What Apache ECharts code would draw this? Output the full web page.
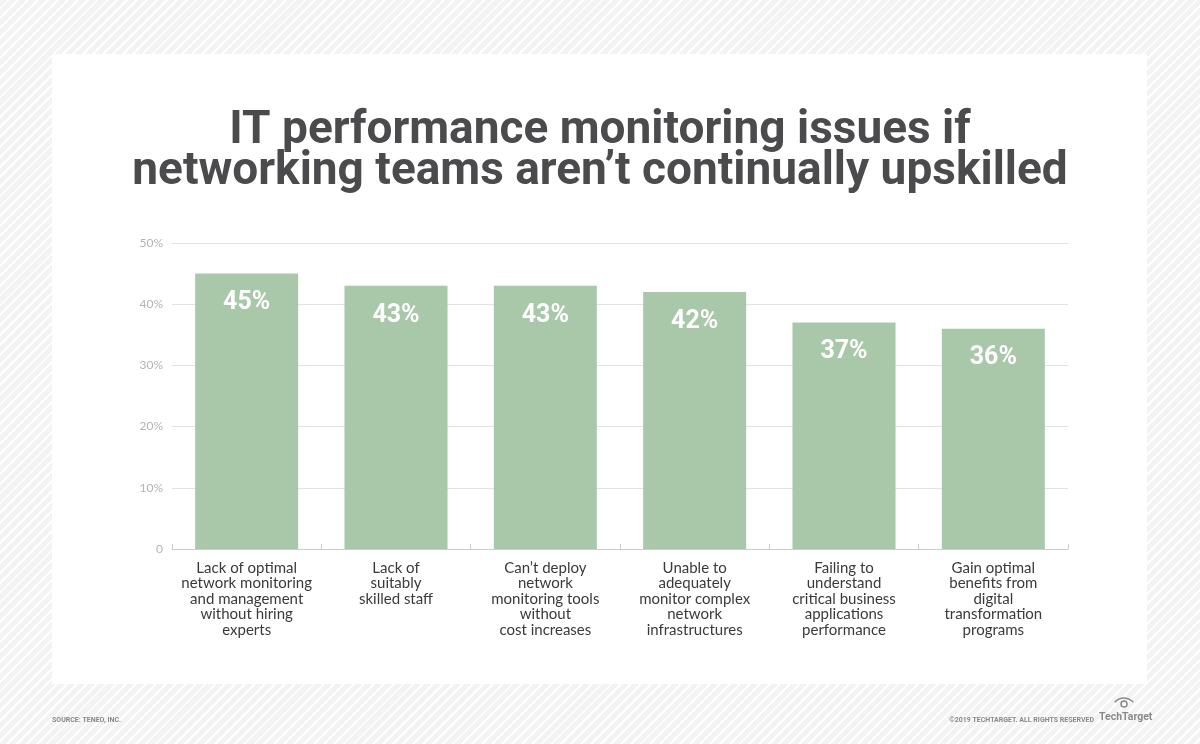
<!DOCTYPE html>
<html>
<head>
<meta charset="utf-8">
<script src="https://cdn.jsdelivr.net/npm/echarts@6/dist/echarts.min.js"></script>
<style>
html,body{margin:0;padding:0;width:1200px;height:744px;overflow:hidden;
background:repeating-linear-gradient(135deg,#f3f3f3 0px,#f3f3f3 5px,#ffffff 5px,#ffffff 7px);}
#chart{width:1200px;height:744px;}
</style>
</head>
<body>
<div id="chart"></div>
<script>
const titleText = "IT performance monitoring issues if\nnetworking teams aren\u2019t continually upskilled";
const categories = [
  "Lack of optimal\nnetwork monitoring\nand management\nwithout hiring\nexperts",
  "Lack of\nsuitably\nskilled staff",
  "Can\u2019t deploy\nnetwork\nmonitoring tools\nwithout\ncost increases",
  "Unable to\nadequately\nmonitor complex\nnetwork\ninfrastructures",
  "Failing to\nunderstand\ncritical business\napplications\nperformance",
  "Gain optimal\nbenefits from\ndigital\ntransformation\nprograms"
];
const values = [45, 43, 43, 42, 37, 36];
const yTicks = [0, 10, 20, 30, 40, 50];
const sourceText = "SOURCE: TENEO, INC.";
const copyrightText = "\u00A92019 TECHTARGET. ALL RIGHTS RESERVED";
const logoText = "TechTarget";

const chart = echarts.init(document.getElementById('chart'));
chart.setOption({
  backgroundColor: 'transparent',
  animation: false,
  title: {
    text: titleText,
    left: 'center',
    top: 106,
    textStyle: {
      fontFamily: 'Roboto',
      fontWeight: 'bold',
      fontSize: 46,
      lineHeight: 41,
      color: '#4b4b4d'
    }
  },
  graphic: [
    { type: 'rect', z: -10, silent: true,
      shape: { x: 52, y: 54, width: 1095, height: 630 },
      style: { fill: '#ffffff' } },
    { type: 'text', left: 52, top: 717,
      style: { text: sourceText, fontFamily: 'Roboto', fontWeight: 'bold', fontSize: 7, fill: '#8a8a8a' } },
    { type: 'text', right: 106, top: 717,
      style: { text: copyrightText, fontFamily: 'Roboto', fontWeight: 'bold', fontSize: 7, fill: '#8a8a8a', align: 'right' } },
    { type: 'text', left: 1099, top: 712,
      style: { text: logoText, fontFamily: 'Roboto', fontWeight: 'bold', fontSize: 10.5, fill: '#8a8a8a' } },
    { type: 'circle', shape: { cx: 1124, cy: 704, r: 3 }, style: { fill: 'none', stroke: '#8a8a8a', lineWidth: 1.5 } },
    { type: 'arc', shape: { cx: 1124, cy: 710, r: 12, startAngle: -Math.PI * 0.78, endAngle: -Math.PI * 0.22 }, style: { stroke: '#8a8a8a', lineWidth: 1.5, fill: 'none' } }
  ],
  grid: { left: 172, right: 132, top: 243, bottom: 195 },
  xAxis: {
    type: 'category',
    data: categories,
    axisLine: { show: true, lineStyle: { color: '#cccccc', width: 1 } },
    axisTick: { show: true, inside: true, length: 5, lineStyle: { color: '#cccccc' } },
    axisLabel: {
      interval: 0,
      margin: 11,
      color: '#3a3a3a',
      fontFamily: 'Lato',
      fontSize: 15,
      lineHeight: 15.5
    }
  },
  yAxis: {
    type: 'value',
    min: 0,
    max: 50,
    interval: 10,
    axisLine: { show: false },
    axisTick: { show: false },
    splitLine: { lineStyle: { color: '#e2e2e2', width: 1 } },
    axisLabel: {
      margin: 9,
      color: '#b3b3b3',
      fontFamily: 'Lato',
      fontSize: 12,
      formatter: function (v) { return yTicks.indexOf(v) === 0 ? '0' : v + '%'; }
    }
  },
  series: [{
    type: 'bar',
    data: values,
    barWidth: '69%',
    itemStyle: { color: '#a9c8a9' },
    label: {
      show: true,
      position: 'insideTop',
      distance: 17,
      color: '#ffffff',
      fontFamily: 'Roboto',
      fontWeight: 'bold',
      fontSize: 25,
      formatter: '{c}%'
    }
  }]
});
</script>
</body>
</html>
